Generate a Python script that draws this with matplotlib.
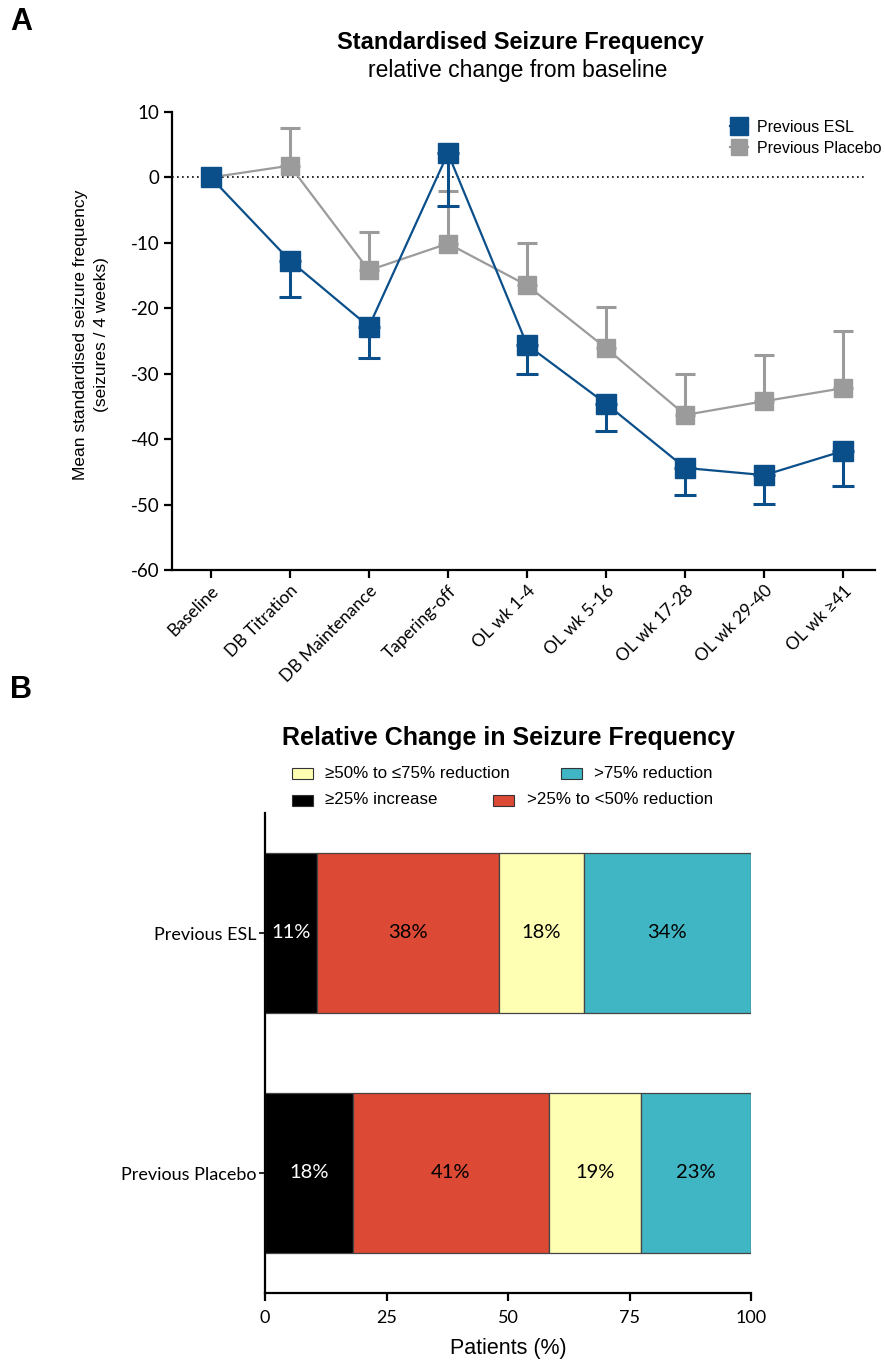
import matplotlib
matplotlib.use("Agg")
import matplotlib.pyplot as plt
from matplotlib.patches import Rectangle
import numpy as np

plt.rcParams["axes.unicode_minus"] = False

# --- panel A data: standardised seizure frequency, change from baseline ---
periods = ["Baseline", "DB Titration", "DB Maintenance", "Tapering-off", "OL wk 1-4",
           "OL wk 5-16", "OL wk 17-28", "OL wk 29-40", "OL wk \u226541"]
esl_mean = [0, -12.7, -22.8, 3.7, -25.6, -34.6, -44.4, -45.5, -41.8]
esl_se = [0, 5.5, 4.8, 8.0, 4.4, 4.1, 4.1, 4.4, 5.4]
pbo_mean = [0, 1.8, -14.2, -10.1, -16.5, -26.1, -36.3, -34.2, -32.2]
pbo_se = [0, 5.7, 5.9, 8.0, 6.5, 6.3, 6.3, 7.0, 8.7]

# --- panel B data: responder categories (% patients) ---
groups = ["Previous ESL", "Previous Placebo"]
categories = ["\u226525% increase", ">25% to <50% reduction",
              "\u226550% to \u226475% reduction", ">75% reduction"]
esl_pct = [10.6, 37.5, 17.5, 34.4]
pbo_pct = [18.1, 40.3, 19.0, 22.6]
esl_lbl = ["11%", "38%", "18%", "34%"]
pbo_lbl = ["18%", "41%", "19%", "23%"]

BLUE = "#0b4f8a"
GREY = "#9b9b9b"
seg_colors = ["#000000", "#dc4a35", "#ffffb3", "#40b5c4"]
txt_colors = ["white", "black", "black", "black"]

SANS = ["Liberation Sans", "DejaVu Sans"]
TICK = ["Lato", "DejaVu Sans"]

W, H = 885, 1362
fig = plt.figure(figsize=(W / 100, H / 100), dpi=100)

def fx(px):
    return px / W

def fy(py):
    return 1 - py / H

# ---------------- Panel A ----------------
ax = fig.add_axes([fx(172), fy(570), fx(875) - fx(172), fy(112) - fy(570)])
x = np.arange(len(periods))

ax.hlines(0, -0.49, 8.28, colors="black", linestyles=(0, (1, 2)), lw=1.2, zorder=1)

ax.plot(x, pbo_mean, color=GREY, lw=1.6, marker="s", ms=12.5, mec=GREY, mfc=GREY,
        zorder=2, label="Previous Placebo")
ax.errorbar(x[1:], pbo_mean[1:], yerr=[np.zeros(len(x) - 1), pbo_se[1:]], fmt="none",
            ecolor=GREY, elinewidth=2.2, capsize=7.5, capthick=2.2, zorder=2)

ax.plot(x, esl_mean, color=BLUE, lw=1.6, marker="s", ms=14, mec=BLUE, mfc=BLUE,
        zorder=4, label="Previous ESL")
ax.errorbar(x[1:], esl_mean[1:], yerr=[esl_se[1:], np.zeros(len(x) - 1)], fmt="none",
            ecolor=BLUE, elinewidth=2.2, capsize=8, capthick=2.2, zorder=3)

ax.set_xlim(-0.49, 8.4)
ax.set_ylim(-60, 10)
ax.set_yticks(range(-60, 11, 10))
ax.set_xticks(x)
ax.set_xticklabels(periods, rotation=45, ha="right", va="top", rotation_mode="anchor",
                   family=TICK, fontsize=12.5)
for lab in ax.get_yticklabels():
    lab.set_family(TICK)
    lab.set_fontsize(13.5)
for s in ["top", "right"]:
    ax.spines[s].set_visible(False)
for s in ["left", "bottom"]:
    ax.spines[s].set_linewidth(1.6)
ax.tick_params(width=1.6, length=6, pad=3)

h, l = ax.get_legend_handles_labels()
ax.legend(h[::-1], l[::-1], loc="upper left", bbox_to_anchor=(fx(722), fy(112)),
          bbox_transform=fig.transFigure, frameon=False, handlelength=1.1,
          handletextpad=0.6, borderpad=0, labelspacing=0.35, markerscale=0.95,
          prop={"family": SANS, "size": 11.5})

fig.text(fx(520), fy(42), "Standardised Seizure Frequency", ha="center", va="center",
         family=SANS, fontsize=17, fontweight="bold")
fig.text(fx(518), fy(70), "relative change from baseline", ha="center", va="center",
         family=SANS, fontsize=16.5)
fig.text(fx(91), fy(335), "Mean standardised seizure frequency\n(seizures / 4 weeks)",
         ha="center", va="center", rotation=90, family=SANS, fontsize=12.5,
         multialignment="center", linespacing=1.45)
fig.text(fx(10), fy(22), "A", ha="left", va="center", family=SANS, fontsize=22,
         fontweight="bold")

# ---------------- Panel B ----------------
bx = fig.add_axes([fx(265), fy(1293), fx(751) - fx(265), fy(813) - fy(1293)])
ypos = [1, 0]
for gi, (vals, lbls) in enumerate([(esl_pct, esl_lbl), (pbo_pct, pbo_lbl)]):
    left = 0
    for ci, v in enumerate(vals):
        bx.barh(ypos[gi], v, left=left, height=0.67, color=seg_colors[ci],
                edgecolor="#444444", linewidth=0.9)
        bx.text(left + v / 2, ypos[gi], lbls[ci], ha="center", va="center",
                color=txt_colors[ci], family=TICK, fontsize=14.5)
        left += v

bx.set_xlim(0, 100)
bx.set_ylim(-0.5, 1.5)
bx.set_xticks([0, 25, 50, 75, 100])
bx.set_yticks(ypos)
bx.set_yticklabels(groups, family=TICK, fontsize=13)
for lab in bx.get_xticklabels():
    lab.set_family(TICK)
    lab.set_fontsize(13)
for s in ["top", "right"]:
    bx.spines[s].set_visible(False)
for s in ["left", "bottom"]:
    bx.spines[s].set_linewidth(1.6)
bx.tick_params(axis="x", width=1.6, length=6, pad=6)
bx.tick_params(axis="y", width=1.2, length=4, pad=2)
bx.set_xlabel("Patients (%)", family=SANS, fontsize=15.5, labelpad=9)

fig.text(fx(508), fy(738), "Relative Change in Seizure Frequency", ha="center",
         va="center", family=SANS, fontsize=18, fontweight="bold")
fig.text(fx(10), fy(690), "B", ha="left", va="center", family=SANS, fontsize=22,
         fontweight="bold")

# manual two-row legend (first item left-aligned, second right-aligned)
legend_rows = [(2, 3), (0, 1)]
row_y = [773, 800]
for (c1, c2), yy in zip(legend_rows, row_y):
    fig.patches.append(Rectangle((fx(292), fy(yy + 6)), fx(21), fy(0) - fy(11),
                                 transform=fig.transFigure, facecolor=seg_colors[c1],
                                 edgecolor="#333333", linewidth=0.8))
    fig.text(fx(325), fy(yy), categories[c1], ha="left", va="center", family=SANS,
             fontsize=12.2)
    t = fig.text(fx(713), fy(yy), categories[c2], ha="right", va="center", family=SANS,
                 fontsize=12.2)
    fig.canvas.draw()
    bb = t.get_window_extent()
    fig.patches.append(Rectangle(((bb.x0 - 34) / W, fy(yy + 6)), fx(21), fy(0) - fy(11),
                                 transform=fig.transFigure, facecolor=seg_colors[c2],
                                 edgecolor="#333333", linewidth=0.8))

fig.savefig("out.png", dpi=100)
